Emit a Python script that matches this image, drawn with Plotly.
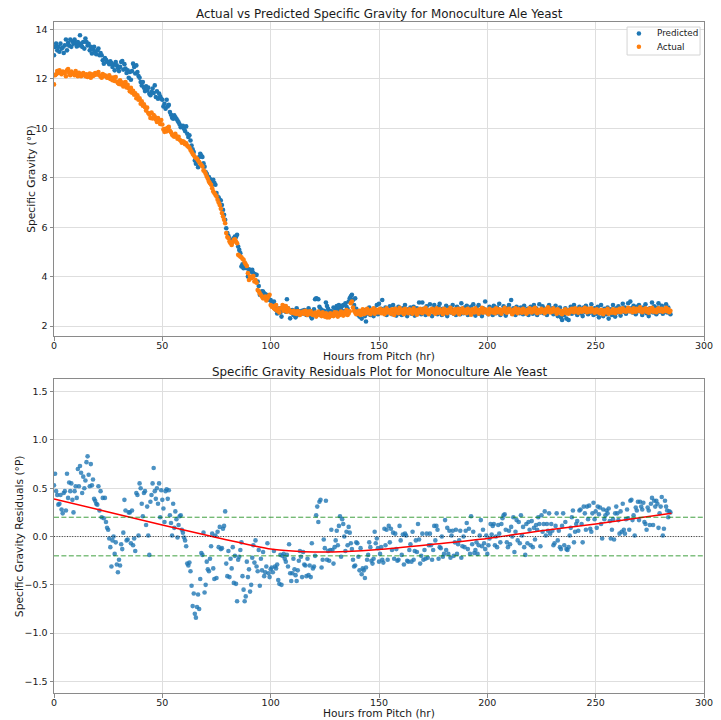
import numpy as np
import plotly.graph_objects as go

# Fermentation log for a monoculture ale yeast, one reading every half hour.
SAMPLE_STEP_HR = 0.5

predicted_sg = [
    12.96, 13.30, 13.43, 13.16, 13.30, 13.10, 13.43, 13.23, 13.27, 13.05,
    13.36, 13.60, 13.16, 13.46, 13.35, 13.60, 13.30, 13.52, 13.43, 13.60,
    13.46, 13.32, 13.50, 13.36, 13.77, 13.43, 13.30, 13.50, 13.23, 13.64,
    13.50, 13.36, 13.42, 13.16, 13.30, 13.03, 13.19, 13.30, 13.10, 13.00,
    13.16, 13.23, 12.96, 13.05, 12.96, 12.76, 12.62, 12.85, 12.78, 12.70,
    12.69, 12.60, 12.72, 12.65, 12.49, 12.58, 12.35, 12.69, 12.55, 12.45,
    12.32, 12.49, 12.69, 12.73, 12.38, 12.60, 12.42, 12.24, 12.35, 12.05,
    12.28, 11.97, 12.32, 12.62, 12.49, 12.22, 12.55, 12.28, 12.12, 12.05,
    11.88, 11.74, 11.88, 11.65, 11.51, 11.70, 11.54, 11.65, 11.40, 11.34,
    11.47, 11.61, 11.43, 11.74, 11.27, 11.50, 11.20, 11.41, 11.30, 11.20,
    11.16, 10.89, 11.00, 10.80, 11.16, 10.89, 10.95, 10.66, 10.55, 10.43,
    10.39, 10.53, 10.45, 10.39, 10.32, 10.25, 10.16, 10.05, 10.08, 10.10,
    9.99, 9.89, 10.08, 9.78, 9.65, 9.72, 9.51, 9.31, 9.15, 9.04,
    8.70, 8.57, 8.77, 8.43, 8.84, 8.97, 8.90, 8.84, 8.59, 8.45,
    8.23, 8.16, 8.05, 8.03, 7.95, 7.89, 7.75, 7.92, 7.80, 7.72,
    7.38, 7.24, 7.20, 7.11, 7.08, 6.90, 6.70, 6.50, 6.30, 5.96,
    5.76, 5.65, 5.55, 5.45, 5.35, 5.48, 5.55, 5.62, 5.60, 5.69,
    5.22, 5.08, 4.95, 4.41, 4.50, 4.34, 4.54, 4.40, 4.34, 4.00,
    4.30, 4.20, 4.25, 4.27, 4.14, 4.10, 4.07, 4.07, 3.80, 3.62,
    3.26, 3.35, 3.40, 3.39, 3.32, 3.28, 3.26, 3.19, 3.10, 3.05,
    3.05, 2.95, 2.89, 2.99, 2.80, 2.65, 2.51, 2.60, 2.72, 2.55,
    2.38, 2.65, 2.81, 2.70, 2.58, 3.08, 2.72, 2.60, 2.31, 2.55,
    2.65, 2.45, 2.55, 2.35, 2.72, 2.62, 2.45, 2.58, 2.50, 2.62,
    2.51, 2.65, 2.58, 2.45, 2.55, 2.72, 2.58, 2.40, 2.31, 2.60,
    2.68, 3.08, 3.12, 3.10, 3.08, 2.78, 2.70, 2.65, 2.55, 2.62,
    2.58, 2.95, 2.81, 2.70, 2.62, 2.54, 2.60, 2.49, 2.75, 2.60,
    2.72, 2.81, 2.65, 2.85, 2.72, 2.68, 2.81, 2.85, 2.60, 2.92,
    2.78, 2.70, 2.99, 3.12, 3.20, 3.26, 3.05, 2.85, 3.12, 2.70,
    2.60, 2.45, 2.38, 2.50, 2.30, 2.55, 2.65, 2.40, 2.18, 2.62,
    2.50, 2.75, 2.45, 2.60, 2.55, 2.40, 2.70, 2.62, 2.85, 2.48,
    2.90, 2.55, 2.70, 3.05, 2.60, 2.52, 2.75, 2.45, 2.65, 2.58,
    2.80, 2.62, 2.48, 2.85, 2.55, 2.70, 2.42, 2.65, 2.78, 2.50,
    2.62, 2.45, 2.72, 2.58, 2.85, 2.60, 2.40, 2.68, 2.55, 2.75,
    2.50, 2.65, 2.78, 2.42, 2.60, 2.72, 2.55, 2.95, 2.62, 2.48,
    2.95, 2.70, 2.58, 2.45, 2.80, 2.62, 2.52, 2.88, 2.65, 2.40,
    2.72, 2.85, 2.55, 2.62, 2.48, 2.78, 2.90, 2.58, 2.45, 2.70,
    2.65, 2.52, 2.82, 2.40, 2.60, 2.75, 2.55, 2.68, 2.85, 2.50,
    2.62, 2.45, 2.78, 2.58, 2.70, 2.48, 2.92, 2.60, 2.52, 2.75,
    2.55, 2.82, 2.45, 2.68, 2.60, 2.78, 2.50, 2.88, 2.62, 2.42,
    2.75, 2.58, 2.85, 2.50, 2.65, 2.40, 2.72, 2.60, 2.99, 2.55,
    2.62, 2.48, 2.78, 2.55, 2.70, 2.45, 2.82, 2.60, 2.52, 2.75,
    2.58, 2.90, 2.45, 2.65, 2.55, 2.80, 2.62, 2.42, 2.72, 2.58,
    2.85, 2.65, 3.05, 2.50, 2.72, 2.60, 2.45, 2.78, 2.58, 2.68,
    2.52, 2.75, 2.60, 2.48, 2.82, 2.62, 2.55, 2.70, 2.45, 2.65,
    2.78, 2.58, 2.50, 2.85, 2.62, 2.72, 2.45, 2.60, 2.88, 2.55,
    2.65, 2.80, 2.52, 2.70, 2.60, 2.45, 2.75, 2.85, 2.58, 2.62,
    2.72, 2.48, 2.60, 2.82, 2.55, 2.40, 2.68, 2.75, 2.35, 2.24,
    2.60, 2.45, 2.72, 2.30, 2.55, 2.24, 2.65, 2.78, 2.50, 2.62,
    2.85, 2.55, 2.70, 2.45, 2.62, 2.78, 2.52, 2.68, 2.40, 2.75,
    2.58, 2.82, 2.62, 2.48, 2.70, 2.55, 2.88, 2.60, 2.45, 2.72,
    2.65, 2.50, 2.78, 2.35, 2.60, 2.85, 2.55, 2.40, 2.70, 2.62,
    2.48, 2.75, 2.30, 2.58, 2.68, 2.45, 2.85, 2.60, 2.38, 2.72,
    2.55, 2.80, 2.62, 2.42, 2.70, 2.90, 2.58, 2.75, 2.50, 2.65,
    2.92, 2.60, 2.99, 2.72, 2.55, 2.82, 2.65, 2.48, 2.78, 2.60,
    2.85, 2.70, 2.58, 2.45, 2.75, 2.62, 2.88, 2.52, 2.68, 2.40,
    2.72, 2.60, 2.95, 2.55, 2.80, 2.65, 2.48, 2.75, 2.92, 2.58,
    2.65, 2.82, 2.50, 2.70, 2.60, 2.88, 2.55, 2.75, 2.62, 2.48,
]

actual_sg = [
    11.78, 12.15, 12.19, 12.32, 12.24, 12.35, 12.28, 12.19, 12.30, 12.28,
    12.24, 12.11, 12.35, 12.40, 12.24, 12.15, 12.30, 12.24, 12.20, 12.15,
    12.32, 12.22, 12.11, 12.25, 12.15, 12.11, 12.20, 12.24, 12.18, 12.11,
    12.19, 12.08, 12.15, 12.22, 12.05, 12.19, 12.12, 12.15, 12.24, 12.18,
    12.19, 12.28, 12.15, 12.10, 12.05, 12.20, 12.11, 12.15, 12.11, 12.05,
    12.05, 12.15, 12.00, 12.05, 11.95, 12.06, 11.92, 12.08, 11.90, 11.84,
    11.80, 11.95, 11.78, 11.86, 11.70, 11.80, 11.88, 11.66, 11.76, 11.62,
    11.50, 11.64, 11.44, 11.52, 11.36, 11.42, 11.22, 11.34, 11.16, 11.22,
    11.00, 11.10, 10.92, 10.98, 10.86, 10.72, 10.84, 10.62, 10.56, 10.42,
    10.64, 10.40, 10.54, 10.48, 10.36, 10.26, 10.42, 10.30, 10.18, 10.34,
    10.16, 9.96, 9.86, 9.98, 9.88, 10.02, 10.06, 9.90, 9.84, 9.74,
    9.70, 9.66, 9.78, 9.68, 9.58, 9.66, 9.54, 9.50, 9.42, 9.48,
    9.45, 9.36, 9.40, 9.30, 9.26, 9.22, 9.12, 9.05, 8.97, 8.91,
    8.84, 8.80, 8.77, 8.70, 8.64, 8.57, 8.52, 8.46, 8.30, 8.25,
    8.16, 8.05, 7.96, 7.85, 7.78, 7.72, 7.58, 7.45, 7.38, 7.31,
    7.24, 7.11, 7.00, 6.90, 6.75, 6.57, 6.43, 6.30, 6.16, 5.76,
    5.60, 5.55, 5.42, 5.35, 5.28, 5.40, 5.49, 5.51, 5.42, 5.35,
    4.88, 4.85, 4.81, 4.78, 4.72, 4.68, 4.57, 4.50, 4.43, 4.14,
    3.86, 4.00, 3.93, 3.97, 4.02, 3.80, 3.86, 3.75, 3.46, 3.40,
    3.32, 3.25, 3.19, 3.12, 3.15, 3.19, 3.03, 3.12, 3.20, 3.26,
    2.85, 2.78, 2.81, 2.72, 2.68, 2.85, 2.62, 2.70, 2.55, 2.72,
    2.72, 2.85, 2.62, 2.70, 2.81, 2.58, 2.72, 2.66, 2.62, 2.55,
    2.54, 2.62, 2.51, 2.58, 2.49, 2.60, 2.58, 2.45, 2.52, 2.55,
    2.58, 2.49, 2.62, 2.51, 2.45, 2.58, 2.51, 2.60, 2.48, 2.45,
    2.45, 2.54, 2.38, 2.49, 2.58, 2.45, 2.52, 2.40, 2.55, 2.48,
    2.38, 2.51, 2.35, 2.45, 2.35, 2.51, 2.42, 2.48, 2.40, 2.55,
    2.45, 2.54, 2.38, 2.49, 2.45, 2.58, 2.50, 2.42, 2.55, 2.48,
    2.65, 2.45, 2.51, 2.60, 2.92, 2.99, 2.75, 2.62, 2.55, 2.48,
    2.58, 2.50, 2.62, 2.45, 2.55, 2.68, 2.48, 2.60, 2.52, 2.70,
    2.55, 2.62, 2.48, 2.65, 2.58, 2.72, 2.50, 2.60, 2.66, 2.55,
    2.62, 2.70, 2.52, 2.58, 2.66, 2.48, 2.60, 2.72, 2.55, 2.64,
    2.58, 2.50, 2.68, 2.62, 2.45, 2.70, 2.56, 2.64, 2.52, 2.74,
    2.60, 2.55, 2.66, 2.48, 2.70, 2.58, 2.62, 2.52, 2.68, 2.56,
    2.64, 2.50, 2.72, 2.58, 2.60, 2.46, 2.66, 2.55, 2.70, 2.62,
    2.52, 2.68, 2.58, 2.74, 2.55, 2.62, 2.48, 2.66, 2.60, 2.70,
    2.56, 2.64, 2.50, 2.72, 2.60, 2.54, 2.68, 2.58, 2.62, 2.48,
    2.70, 2.58, 2.64, 2.52, 2.66, 2.60, 2.74, 2.55, 2.62, 2.50,
    2.68, 2.56, 2.62, 2.70, 2.48, 2.64, 2.58, 2.72, 2.54, 2.60,
    2.66, 2.52, 2.70, 2.58, 2.62, 2.46, 2.68, 2.60, 2.55, 2.72,
    2.58, 2.64, 2.50, 2.66, 2.60, 2.74, 2.54, 2.62, 2.68, 2.56,
    2.62, 2.48, 2.70, 2.58, 2.64, 2.55, 2.66, 2.52, 2.72, 2.60,
    2.56, 2.68, 2.60, 2.50, 2.66, 2.62, 2.74, 2.58, 2.54, 2.64,
    2.70, 2.58, 2.62, 2.48, 2.66, 2.56, 2.72, 2.60, 2.52, 2.68,
    2.60, 2.64, 2.54, 2.70, 2.58, 2.62, 2.50, 2.66, 2.56, 2.72,
    2.62, 2.55, 2.68, 2.60, 2.74, 2.58, 2.52, 2.66, 2.62, 2.56,
    2.70, 2.60, 2.64, 2.52, 2.68, 2.58, 2.76, 2.62, 2.55, 2.66,
    2.58, 2.72, 2.60, 2.64, 2.50, 2.68, 2.56, 2.62, 2.54, 2.48,
    2.62, 2.56, 2.68, 2.52, 2.60, 2.50, 2.66, 2.58, 2.70, 2.62,
    2.56, 2.72, 2.60, 2.66, 2.54, 2.70, 2.62, 2.58, 2.68, 2.60,
    2.74, 2.62, 2.56, 2.70, 2.64, 2.58, 2.72, 2.60, 2.66, 2.54,
    2.62, 2.68, 2.56, 2.60, 2.52, 2.66, 2.58, 2.48, 2.64, 2.60,
    2.56, 2.70, 2.50, 2.62, 2.58, 2.54, 2.68, 2.60, 2.52, 2.66,
    2.62, 2.58, 2.70, 2.56, 2.64, 2.72, 2.60, 2.66, 2.58, 2.62,
    2.74, 2.60, 2.68, 2.62, 2.56, 2.72, 2.64, 2.58, 2.70, 2.66,
    2.62, 2.76, 2.60, 2.56, 2.68, 2.64, 2.72, 2.58, 2.66, 2.54,
    2.70, 2.62, 2.74, 2.58, 2.66, 2.60, 2.56, 2.68, 2.72, 2.60,
    2.64, 2.70, 2.58, 2.66, 2.62, 2.74, 2.60, 2.68, 2.56, 2.62,
]

residuals = [
    0.53, 0.65, 0.47, 0.43, 0.33, 0.34, 0.43, 0.28, 0.24, 0.45,
    0.47, 0.27, 0.65, 0.40, 0.56, 0.47, 0.55, 0.38, 0.25, 0.47,
    0.52, 0.40, 0.70, 0.52, 0.73, 0.66, 0.45, 0.62, 0.50, 0.58,
    0.77, 0.83, 0.64, 0.52, 0.75, 0.53, 0.59, 0.39, 0.37, 0.34,
    0.33, 0.52, 0.27, 0.47, 0.20, 0.40, 0.19, 0.40, 0.15, 0.09,
    0.07, -0.02, -0.11, -0.31, -0.04, 0.00, -0.18, -0.06, -0.29, -0.37,
    -0.24, -0.30, -0.08, -0.13, 0.04, 0.38, 0.27, -0.04, -0.03, 0.25,
    0.25, -0.07, 0.27, -0.09, -0.02, -0.15, 0.45, 0.43, 0.01, 0.55,
    0.50, 0.34, 0.21, 0.45, 0.47, 0.12, 0.31, 0.01, -0.19, 0.36,
    0.43, 0.55, 0.71, 0.47, 0.39, 0.50, 0.34, 0.55, 0.20, 0.48,
    0.38, 0.29, 0.15, 0.47, 0.49, 0.39, 0.48, 0.22, 0.14, 0.01,
    0.34, 0.09, 0.26, 0.18, -0.01, 0.12, 0.21, 0.22, 0.07, 0.04,
    -0.01, -0.04, -0.10, -0.28, -0.30, -0.27, -0.36, -0.51, -0.72, -0.59,
    -0.80, -0.84, -0.73, -0.60, -0.75, -0.44, -0.17, -0.19, 0.04, -0.58,
    -0.50, -0.26, -0.34, -0.36, -0.23, -0.10, 0.03, -0.33, -0.44, 0.01,
    -0.43, 0.05, -0.11, 0.10, -0.13, -0.12, 0.08, 0.11, 0.26, -0.28,
    -0.41, -0.15, -0.42, -0.23, -0.33, -0.11, -0.48, -0.20, -0.49, -0.67,
    -0.24, -0.21, -0.14, -0.06, -0.41, -0.55, -0.67, -0.62, -0.26, -0.42,
    -0.34, -0.57, -0.50, -0.22, -0.09, -0.27, -0.04, -0.31, -0.36, -0.14,
    -0.51, -0.23, -0.35, -0.16, -0.41, -0.37, -0.31, -0.07, -0.38, -0.42,
    -0.34, -0.32, -0.37, -0.15, -0.31, -0.33, -0.29, -0.45, -0.49, -0.19,
    -0.50, -0.20, -0.18, -0.23, -0.26, -0.19, -0.31, -0.08, -0.38, -0.46,
    -0.38, -0.23, -0.34, -0.40, -0.46, -0.35, -0.25, -0.15, -0.21, -0.42,
    -0.16, -0.29, -0.30, -0.41, -0.23, -0.40, -0.30, -0.42, -0.07, -0.33,
    -0.31, -0.20, 0.22, 0.31, 0.15, 0.36, 0.38, -0.32, -0.24, -0.03,
    -0.12, 0.37, -0.24, -0.15, -0.25, -0.14, 0.07, -0.14, -0.28, -0.11,
    -0.04, 0.06, -0.09, 0.11, 0.21, -0.21, 0.18, 0.13, 0.00, -0.15,
    0.05, -0.09, 0.10, 0.04, -0.07, -0.13, -0.24, -0.31, -0.30, -0.06,
    -0.07, -0.21, -0.35, -0.12, -0.39, -0.33, -0.35, -0.43, -0.32, -0.24,
    -0.19, -0.06, -0.11, -0.25, -0.28, -0.23, 0.05, -0.07, -0.02, -0.12,
    -0.26, -0.18, -0.11, -0.24, -0.27, 0.08, -0.09, 0.07, -0.24, 0.11,
    -0.06, 0.08, -0.14, 0.04, -0.23, 0.03, -0.13, -0.25, -0.24, 0.11,
    -0.04, -0.19, 0.02, -0.29, 0.03, 0.01, -0.25, -0.26, -0.14, -0.08,
    -0.26, 0.05, -0.24, -0.15, -0.04, -0.16, 0.13, -0.03, -0.28, -0.20,
    0.03, -0.24, -0.14, -0.23, 0.03, -0.22, -0.09, 0.03, -0.09, -0.24,
    -0.14, 0.11, -0.04, 0.11, 0.07, -0.23, -0.11, -0.12, 0.00, -0.21,
    -0.18, 0.17, -0.14, 0.09, -0.18, 0.06, -0.22, 0.01, 0.06, -0.20,
    -0.06, 0.07, -0.18, -0.08, -0.04, 0.06, -0.22, -0.10, 0.00, -0.11,
    0.06, 0.14, -0.13, 0.08, -0.18, 0.21, -0.08, 0.05, -0.17, -0.14,
    -0.06, -0.18, -0.09, 0.01, 0.17, -0.10, 0.07, -0.07, -0.13, 0.01,
    -0.18, -0.09, -0.02, 0.13, 0.02, 0.11, 0.13, -0.09, 0.00, -0.11,
    0.12, 0.03, -0.06, 0.13, 0.19, 0.22, 0.23, 0.07, -0.06, -0.11,
    0.06, -0.08, 0.10, 0.00, 0.20, -0.16, 0.05, 0.17, -0.04, 0.15,
    -0.07, 0.22, 0.01, 0.10, -0.11, -0.19, 0.13, -0.07, 0.15, 0.07,
    -0.09, 0.16, -0.11, 0.09, -0.03, 0.12, 0.07, 0.20, 0.13, -0.10,
    0.22, 0.05, 0.13, 0.26, 0.01, 0.13, 0.06, 0.24, 0.03, 0.13,
    0.06, -0.09, -0.07, 0.11, 0.24, -0.04, 0.06, -0.11, -0.13, 0.11,
    0.24, -0.09, 0.15, -0.13, -0.14, -0.11, 0.01, 0.09, 0.20, 0.27,
    -0.06, 0.05, 0.13, 0.16, 0.06, 0.27, 0.28, 0.13, -0.06, 0.31,
    0.24, 0.07, 0.31, 0.18, 0.32, 0.08, 0.05, 0.24, 0.35, 0.18,
    0.26, 0.09, 0.31, 0.23, 0.30, 0.13, -0.02, 0.28, 0.18, 0.22,
    0.27, 0.24, 0.29, 0.16, -0.02, 0.07, 0.18, -0.03, 0.24, 0.31,
    0.24, 0.17, 0.03, 0.26, 0.05, 0.34, 0.07, 0.03, 0.18, 0.28,
    0.19, 0.07, 0.37, 0.38, 0.17, 0.22, 0.01, 0.30, 0.27, 0.36,
    0.17, 0.36, 0.31, 0.28, 0.35, 0.15, 0.13, 0.07, 0.30, 0.27,
    0.12, 0.34, 0.40, 0.12, 0.37, 0.31, 0.37, 0.34, 0.09, 0.24,
    0.31, 0.41, 0.01, 0.08, 0.37, 0.31, 0.27, 0.20, 0.26, 0.25,
]

# smoothed residual trend (hours, degrees Plato)
trend_hours = [0, 25, 50, 75, 85, 93, 100, 110, 120, 135, 150, 175, 200, 225, 250, 285]
trend_values = [0.39, 0.255, 0.12, -0.01, -0.06, -0.10, -0.13, -0.15, -0.16, -0.155,
                -0.135, -0.08, -0.02, 0.06, 0.13, 0.24]

residual_band = 0.2            # acceptable error band, degrees Plato
x_ticks = [0, 50, 100, 150, 200, 250, 300]
sg_ticks = [2, 4, 6, 8, 10, 12, 14]
res_ticks = [-1.5, -1.0, -0.5, 0.0, 0.5, 1.0, 1.5]

n = min(len(predicted_sg), len(actual_sg), len(residuals))
hours = np.arange(n) * SAMPLE_STEP_HR
pred = np.array(predicted_sg[:n])
act = np.array(actual_sg[:n])
res = np.array(residuals[:n])

BLUE = "#1f77b4"
ORANGE = "#ff7f0e"
FONT = "DejaVu Sans"
TEXT = "#1a1a1a"
SPINE = "#8a8a8a"
GRID = "#dedede"

W, H = 721, 720
L, R, T, B = 54, 8, 22, 27
PW, PH = W - L - R, H - T - B


def fx(p):
    return (p - L) / PW


def fy(p):
    return (H - B - p) / PH


fig = go.Figure()
fig.add_trace(go.Scatter(x=hours, y=pred, mode="markers", name="Predicted",
                         marker=dict(color=BLUE, size=4.6), xaxis="x", yaxis="y"))
fig.add_trace(go.Scatter(x=hours, y=act, mode="markers", name="Actual",
                         marker=dict(color=ORANGE, size=4.6), xaxis="x", yaxis="y"))
fig.add_trace(go.Scatter(x=hours, y=res, mode="markers", name="Residuals",
                         marker=dict(color=BLUE, size=4.6, opacity=0.8),
                         xaxis="x2", yaxis="y2"))
fig.add_trace(go.Scatter(x=trend_hours, y=trend_values, mode="lines", name="Trend",
                         line=dict(color="red", width=1.5, shape="spline", smoothing=0.7),
                         xaxis="x2", yaxis="y2"))

axis_common = dict(
    showgrid=True, gridcolor=GRID, gridwidth=1, zeroline=False,
    showline=True, linecolor=SPINE, linewidth=1, mirror=True,
    ticks="outside", ticklen=3.5, tickcolor=SPINE, tickwidth=1,
    ticklabeloverflow="allow",
    tickfont=dict(family=FONT, size=9.5, color=TEXT),
)
x_common = dict(axis_common, ticklabelstandoff=-3)

top_dom = [fy(336), 1.0]
bot_dom = [0.0, fy(379.3)]

fig.update_layout(
    width=W, height=H,
    margin=dict(l=L, r=R, t=T, b=B),
    paper_bgcolor="white", plot_bgcolor="white",
    showlegend=False,
    font=dict(family=FONT, color=TEXT),
    xaxis=dict(x_common, domain=[0, 1], anchor="y", range=[0, 300], tickvals=x_ticks),
    yaxis=dict(axis_common, domain=top_dom, anchor="x", range=[1.595, 14.307], tickvals=sg_ticks),
    xaxis2=dict(x_common, domain=[0, 1], anchor="y2", range=[0, 300], tickvals=x_ticks),
    yaxis2=dict(axis_common, domain=bot_dom, anchor="x2", range=[-1.62, 1.628],
                tickvals=res_ticks, tickformat=".1f"),
)

shapes = []
for level, color, dash in [(residual_band, "rgba(0,128,0,0.75)", "5px,2.4px"),
                           (-residual_band, "rgba(0,128,0,0.75)", "5px,2.4px"),
                           (0.0, "rgba(0,0,0,0.75)", "1px,1.6px")]:
    shapes.append(dict(type="line", xref="x2 domain", yref="y2", x0=0, x1=1,
                       y0=level, y1=level, line=dict(color=color, width=1, dash=dash)))

# legend box for the upper panel
shapes.append(dict(type="rect", xref="paper", yref="paper",
                   x0=fx(635), x1=fx(709), y0=fy(55), y1=fy(27),
                   line=dict(color="#d4d4d4", width=1), fillcolor="rgba(255,255,255,0.85)"))
legend_rows = [("Predicted", BLUE, 33.5), ("Actual", ORANGE, 46.7)]
for label, color, yy in legend_rows:
    shapes.append(dict(type="circle", xref="paper", yref="paper",
                       x0=fx(647 - 2.3), x1=fx(647 + 2.3), y0=fy(yy + 2.3), y1=fy(yy - 2.3),
                       line=dict(width=0), fillcolor=color))

annotations = [
    dict(text="Actual vs Predicted Specific Gravity for Monoculture Ale Yeast",
         x=0.5, y=fy(14.5), font=dict(size=11.9)),
    dict(text="Specific Gravity Residuals Plot for Monoculture Ale Yeast",
         x=0.5, y=fy(372), font=dict(size=11.9)),
    dict(text="Hours from Pitch (hr)", x=0.5, y=fy(356.5), font=dict(size=10.7)),
    dict(text="Hours from Pitch (hr)", x=0.5, y=fy(713.5), font=dict(size=10.7)),
    dict(text="Specific Gravity (°P)", x=fx(30.5), y=sum(top_dom) / 2,
         textangle=-90, font=dict(size=10.7)),
    dict(text="Specific Gravity Residuals (°P)", x=fx(18.5), y=sum(bot_dom) / 2,
         textangle=-90, font=dict(size=10.7)),
]
for a in annotations:
    a.update(xref="paper", yref="paper", xanchor="center", yanchor="middle", showarrow=False)
    a["font"].update(family=FONT, color=TEXT)

for label, color, yy in legend_rows:
    annotations.append(dict(text=label, xref="paper", yref="paper", x=fx(663), y=fy(yy),
                            xanchor="left", yanchor="middle", showarrow=False,
                            font=dict(family=FONT, size=8.8, color=TEXT)))

fig.update_layout(shapes=shapes, annotations=annotations)
fig.write_html("out.html")
